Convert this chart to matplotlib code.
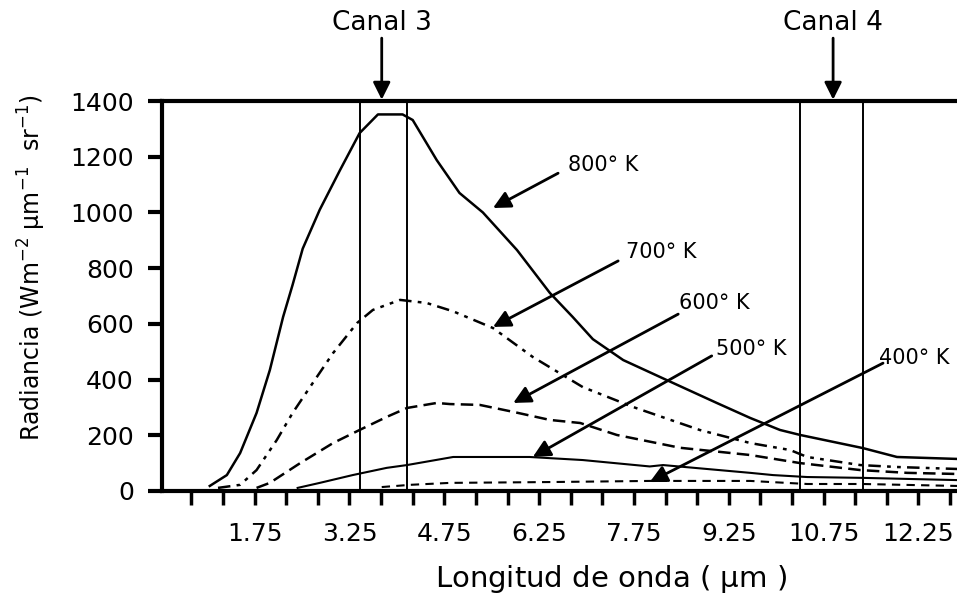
import matplotlib
matplotlib.use("Agg")
import matplotlib.pyplot as plt
import numpy as np

plt.rcParams['font.family'] = 'DejaVu Sans'
plt.rcParams['mathtext.default'] = 'regular'

# longitud de onda (um) y radiancia para cada temperatura
x800 = [1.04, 1.31, 1.52, 1.78, 1.99, 2.20, 2.35, 2.51, 2.78, 3.10, 3.41, 3.70, 4.09, 4.25,
        4.63, 4.99, 5.36, 5.90, 6.42, 6.78, 7.10, 7.58, 8.27, 9.06, 9.59, 10.06, 10.38,
        11.37, 11.91, 12.86]
y800 = [18, 57, 136, 280, 434, 625, 740, 870, 1010, 1152, 1285, 1352, 1352, 1332,
        1188, 1070, 1000, 865, 711, 625, 545, 470, 398, 316, 262, 219, 201,
        154, 122, 115]

x700 = [1.17, 1.52, 1.78, 2.10, 2.35, 2.67, 2.99, 3.37, 3.62, 4.05, 4.47, 4.89, 5.52,
        6.15, 6.94, 7.73, 8.79, 9.59, 10.22, 10.49, 11.33, 11.91, 12.86]
y700 = [11, 22, 75, 183, 280, 388, 495, 603, 650, 686, 675, 645, 585,
        481, 373, 302, 219, 172, 147, 122, 93, 86, 79]

x600 = [1.78, 1.99, 2.47, 2.99, 3.41, 3.84, 4.16, 4.63, 4.84, 5.31, 5.84, 6.42, 6.90,
        7.48, 8.48, 9.59, 10.38, 11.33, 12.07, 12.86]
y600 = [11, 29, 100, 172, 219, 266, 298, 316, 312, 309, 284, 255, 244,
        201, 155, 129, 100, 75, 65, 61]

x500 = [2.43, 2.78, 3.30, 3.84, 4.16, 4.89, 6.10, 6.94, 8.00, 8.21, 9.59, 9.95, 10.49,
        11.37, 12.86]
y500 = [11, 29, 57, 83, 93, 122, 122, 111, 88, 93, 65, 57, 50, 47, 39]

x400 = [3.76, 4.21, 4.84, 6.42, 8.00, 9.59, 10.49, 11.37, 12.86]
y400 = [14, 22, 29, 32, 36, 36, 25, 25, 18]

# bandas de los canales
canal3 = [3.41, 4.16]
canal4 = [10.38, 11.37]

fig = plt.figure(figsize=(9.57, 5.98), dpi=100)
ax = fig.add_axes([0.169, 0.179, 0.831, 0.652])

ax.plot(x800, y800, color='black', lw=1.8)
ax.plot(x700, y700, color='black', lw=1.8, linestyle=(0, (5, 2.5, 1.5, 2.5, 1.5, 2.5)))
ax.plot(x600, y600, color='black', lw=1.8, linestyle=(0, (5, 2.5)))
ax.plot(x500, y500, color='black', lw=1.5)
ax.plot(x400, y400, color='black', lw=1.5, linestyle=(0, (4, 3)))

for xv in canal3 + canal4:
    ax.axvline(xv, color='black', lw=1.4)

ax.set_xlim(0.28, 12.86)
ax.set_ylim(0, 1400)

ticks = np.arange(0.75, 12.8, 0.5)
ax.set_xticks(ticks)
ax.set_xticklabels(['%.2f' % t if abs((t - 1.75) % 1.5) < 1e-6 else '' for t in ticks])
ax.set_yticks(range(0, 1401, 200))

for s in ['left', 'bottom', 'top']:
    ax.spines[s].set_linewidth(3)
ax.spines['right'].set_visible(False)
ax.tick_params(axis='y', length=10, width=3, pad=10, labelsize=18)
ax.tick_params(axis='x', length=10, width=2.5, pad=12, labelsize=18)

ax.set_xlabel(r'Longitud de onda ( $\mu$m )', fontsize=21)
ax.xaxis.set_label_coords(0.565, -0.185)
ax.set_ylabel(r'Radiancia (Wm$^{-2}$ $\mu$m$^{-1}$  sr$^{-1}$)', fontsize=17)
ax.yaxis.set_label_coords(-0.143, 0.572)

arrow = dict(arrowstyle='-|>', color='black', lw=2, mutation_scale=26, shrinkA=0, shrinkB=0)

# etiquetas de temperatura
labels = [('800° K', (5.52, 1016), (6.55, 1141), (6.7, 1172)),
          ('700° K', (5.52, 589), (7.50, 826), (7.62, 858)),
          ('600° K', (5.84, 316), (8.45, 635), (8.47, 675)),
          ('500° K', (6.15, 122), (8.98, 485), (9.05, 510)),
          ('400° K', (8.00, 32), (11.69, 459), (11.62, 476))]
for txt, head, tail, pos in labels:
    ax.annotate('', xy=head, xytext=tail, arrowprops=arrow)
    ax.text(pos[0], pos[1], txt, fontsize=15, ha='left', va='center')

# canales del sensor
for name, xc in [('Canal 3', 3.76), ('Canal 4', 10.90)]:
    ax.annotate('', xy=(xc, 1405), xytext=(xc, 1626), arrowprops=arrow,
                annotation_clip=False)
    ax.text(xc, 1680, name, fontsize=19, ha='center', va='center')

fig.savefig('out.png', dpi=100)
